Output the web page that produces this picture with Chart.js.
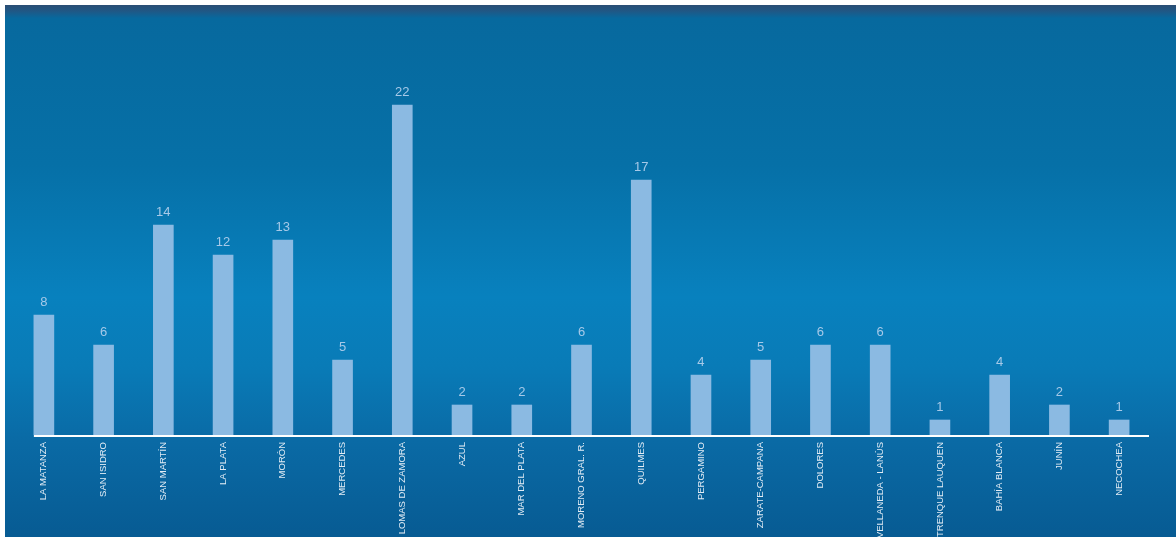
<!DOCTYPE html>
<html>
<head>
<meta charset="utf-8">
<script src="https://cdn.jsdelivr.net/npm/chart.js@4/dist/chart.umd.min.js"></script>
<style>
  html, body { margin: 0; padding: 0; background: #fff; }
  #wrap { position: absolute; left: 5px; top: 5px; width: 1171px; height: 532px; }
</style>
</head>
<body>
<div id="wrap"><canvas id="bar-chart"></canvas></div>
<script>
const categories = ['LA MATANZA', 'SAN ISIDRO', 'SAN MARTÍN', 'LA PLATA', 'MORÓN', 'MERCEDES',
    'LOMAS DE ZAMORA', 'AZUL', 'MAR DEL PLATA', 'MORENO GRAL. R.', 'QUILMES', 'PERGAMINO',
    'ZARATE-CAMPANA', 'DOLORES', 'AVELLANEDA - LANÚS', 'TRENQUE LAUQUEN', 'BAHÍA BLANCA',
    'JUNÍN', 'NECOCHEA'];
const values = [8, 6, 14, 12, 13, 5, 22, 2, 2, 6, 17, 4, 5, 6, 6, 1, 4, 2, 1];

// fondo tipo "mar"
const oceanBackground = {
    id: 'oceanBackground',
    beforeDraw(chart) {
        const ctx = chart.ctx;
        const h = chart.height;
        const g = ctx.createLinearGradient(0, 0, 0, h);
        g.addColorStop(0, '#2a4d74');
        g.addColorStop(0.012, '#1f5886');
        g.addColorStop(0.025, '#07699e');
        g.addColorStop(0.3, '#0670a7');
        g.addColorStop(0.55, '#0881be');
        g.addColorStop(0.68, '#097bb7');
        g.addColorStop(0.82, '#0a6aa5');
        g.addColorStop(1, '#075b93');
        ctx.save();
        ctx.fillStyle = g;
        ctx.fillRect(0, 0, chart.width, h);
        ctx.restore();
    }
};

// línea base + etiquetas de valor
const baseAndLabels = {
    id: 'baseAndLabels',
    afterDatasetsDraw(chart) {
        const ctx = chart.ctx;
        const meta = chart.getDatasetMeta(0);
        const y0 = chart.scales.y.getPixelForValue(0);
        const first = meta.data[0];
        ctx.save();
        ctx.strokeStyle = '#ffffff';
        ctx.lineWidth = 2;
        ctx.beginPath();
        ctx.moveTo(first.x - first.width / 2, y0 + 1);
        ctx.lineTo(chart.chartArea.right, y0 + 1);
        ctx.stroke();

        ctx.fillStyle = '#a6c9e8';
        ctx.font = '13px "Liberation Sans", Arial, sans-serif';
        ctx.textAlign = 'center';
        ctx.textBaseline = 'bottom';
        meta.data.forEach((bar, i) => {
            ctx.fillText(values[i], bar.x, bar.y - 6);
        });
        ctx.restore();
    }
};

const ctx = document.getElementById('bar-chart').getContext('2d');
const chart = new Chart(ctx, {
    type: 'bar',
    data: {
        labels: categories,
        datasets: [{
            data: values,
            backgroundColor: '#8bbae2',
            barThickness: 20
        }]
    },
    options: {
        responsive: true,
        maintainAspectRatio: false,
        animation: false,
        layout: { padding: { left: 9, right: 27, top: 40, bottom: 0 } },
        plugins: { legend: { display: false }, tooltip: { enabled: false } },
        scales: {
            x: {
                grid: { display: false, drawTicks: false },
                border: { display: false },
                ticks: {
                    color: '#e2ecf5',
                    maxRotation: 90,
                    minRotation: 90,
                    padding: 7,
                    autoSkip: false,
                    font: { family: '"Liberation Sans", Arial, sans-serif', size: 9.5 }
                },
                afterFit(scale) { scale.height = 102; }
            },
            y: {
                display: false,
                min: 0,
                max: 26
            }
        }
    },
    plugins: [oceanBackground, baseAndLabels]
});
</script>
</body>
</html>
